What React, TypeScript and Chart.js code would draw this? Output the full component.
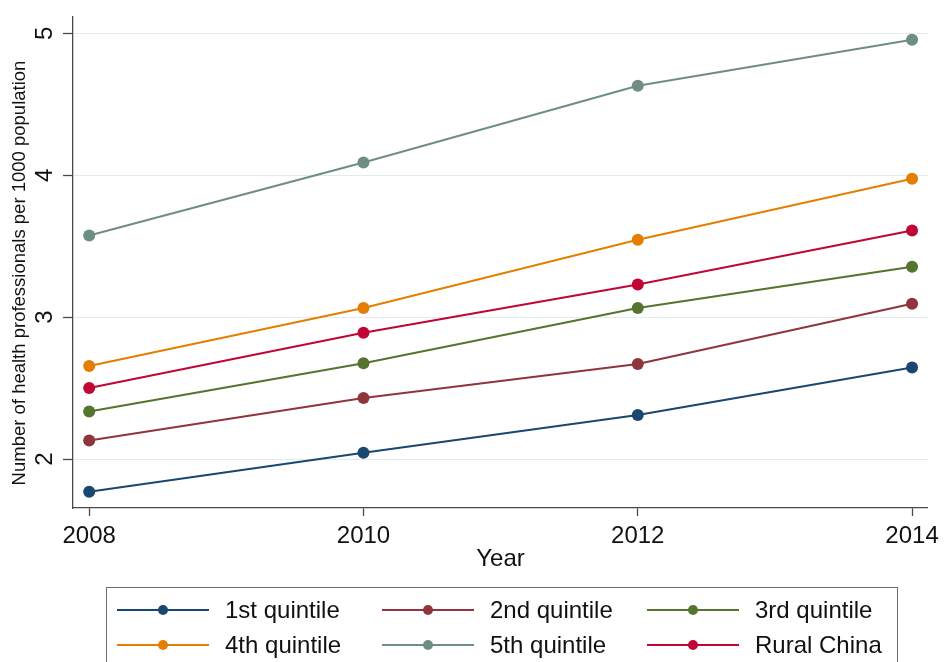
import React, { useEffect, useRef } from "react";
import { Chart, registerables } from "chart.js";

Chart.register(...registerables);

const years = [2008, 2010, 2012, 2014];
const xTicks = [2008, 2010, 2012, 2014];
const yTicks = [2, 3, 4, 5];

const seriesLabels = ["1st quintile", "2nd quintile", "3rd quintile", "4th quintile", "5th quintile", "Rural China"];
const q1 = [1.77, 2.045, 2.31, 2.645];
const q2 = [2.13, 2.43, 2.67, 3.095];
const q3 = [2.335, 2.675, 3.065, 3.355];
const q4 = [2.655, 3.065, 3.545, 3.975];
const q5 = [3.575, 4.09, 4.63, 4.955];
const rural = [2.5, 2.89, 3.23, 3.61];
const seriesValues = [q1, q2, q3, q4, q5, rural];
const seriesColors = ["#1a476f", "#90353b", "#55752f", "#e37e00", "#6e8e84", "#c10534"];

const yTitle = "Number of health professionals per 1000 population";
const xTitle = "Year";

const FONT = "'Liberation Sans', Arial, Helvetica, sans-serif";
const TEXT = "#111111";
const AXIS = "#4a4a4a";

const decorPlugin = {
  id: "stataDecor",
  afterDraw(chart: any) {
    const ctx = chart.ctx;
    const y = chart.scales.y;
    ctx.save();
    ctx.fillStyle = TEXT;
    // y tick labels, rotated
    ctx.font = `24px ${FONT}`;
    ctx.textAlign = "center";
    ctx.textBaseline = "alphabetic";
    yTicks.forEach((v) => {
      const py = y.getPixelForValue(v);
      ctx.save();
      ctx.translate(52, py);
      ctx.rotate(-Math.PI / 2);
      ctx.fillText(String(v), 0, 0);
      ctx.restore();
    });
    // y title
    ctx.font = `18.5px ${FONT}`;
    ctx.save();
    ctx.translate(25, 273);
    ctx.rotate(-Math.PI / 2);
    ctx.fillText(yTitle, 0, 0);
    ctx.restore();

    // legend
    ctx.strokeStyle = "#6f6f6f";
    ctx.lineWidth = 1;
    ctx.strokeRect(106.5, 587.5, 791, 120);
    const colX = [117, 382, 647];
    const rowY = [610, 645];
    ctx.font = `24px ${FONT}`;
    ctx.textAlign = "left";
    ctx.textBaseline = "middle";
    chart.data.datasets.forEach((ds: any, i: number) => {
      const cx = colX[i % 3];
      const cy = rowY[Math.floor(i / 3)];
      ctx.strokeStyle = ds.borderColor;
      ctx.lineWidth = 2;
      ctx.beginPath();
      ctx.moveTo(cx, cy);
      ctx.lineTo(cx + 92, cy);
      ctx.stroke();
      ctx.fillStyle = ds.borderColor;
      ctx.beginPath();
      ctx.arc(cx + 46, cy, 5, 0, Math.PI * 2);
      ctx.fill();
      ctx.fillStyle = TEXT;
      ctx.fillText(ds.label, cx + 108, cy + 1.5);
    });
    ctx.restore();
  },
};

export default function App() {
  const ref = useRef<HTMLCanvasElement>(null);
  useEffect(() => {
    if (!ref.current) return;
    const chart = new Chart(ref.current, {
      type: "line",
      data: {
        datasets: seriesLabels.map((label, i) => ({
          label,
          data: years.map((yr, j) => ({ x: yr, y: seriesValues[i][j] })),
          borderColor: seriesColors[i],
          backgroundColor: seriesColors[i],
          pointBackgroundColor: seriesColors[i],
          pointBorderWidth: 0,
          pointRadius: 6,
          borderWidth: 2,
          tension: 0,
          fill: false,
        })),
      },
      options: {
        animation: false,
        responsive: false,
        devicePixelRatio: 1,
        layout: { padding: { left: 0, top: 17, right: 13, bottom: 84 } },
        plugins: { legend: { display: false }, tooltip: { enabled: false } },
        scales: {
          x: {
            type: "linear",
            min: 2007.882,
            max: 2014.116,
            afterBuildTicks: (s: any) => {
              s.ticks = xTicks.map((v) => ({ value: v }));
            },
            afterFit: (s: any) => {
              s.height = 70;
            },
            ticks: {
              font: { family: FONT, size: 24 },
              color: TEXT,
              padding: 6,
              maxRotation: 0,
              callback: (v: any) => String(v),
            },
            grid: {
              drawOnChartArea: false,
              drawTicks: true,
              tickLength: 8,
              tickColor: AXIS,
              tickWidth: 1.3,
            },
            border: { display: true, color: AXIS, width: 1.3 },
            title: {
              display: true,
              text: xTitle,
              font: { family: FONT, size: 24 },
              color: TEXT,
              padding: { top: 0, bottom: 4 },
            },
          },
          y: {
            type: "linear",
            min: 1.655,
            max: 5.115,
            afterBuildTicks: (s: any) => {
              s.ticks = yTicks.map((v) => ({ value: v }));
            },
            afterFit: (s: any) => {
              s.width = 73;
            },
            ticks: { display: false },
            grid: {
              color: "#e3ebee",
              lineWidth: 1,
              drawTicks: true,
              tickLength: 10,
              tickColor: AXIS,
              tickWidth: 1.3,
            },
            border: { display: true, color: AXIS, width: 1.3 },
          },
        },
      },
      plugins: [decorPlugin],
    });
    return () => chart.destroy();
  }, []);
  return (
    <div style={{ position: "absolute", left: 0, top: 0, width: 945, height: 662, background: "#fff" }}>
      <canvas ref={ref} width={945} height={662} style={{ display: "block", width: 945, height: 662 }} />
    </div>
  );
}
